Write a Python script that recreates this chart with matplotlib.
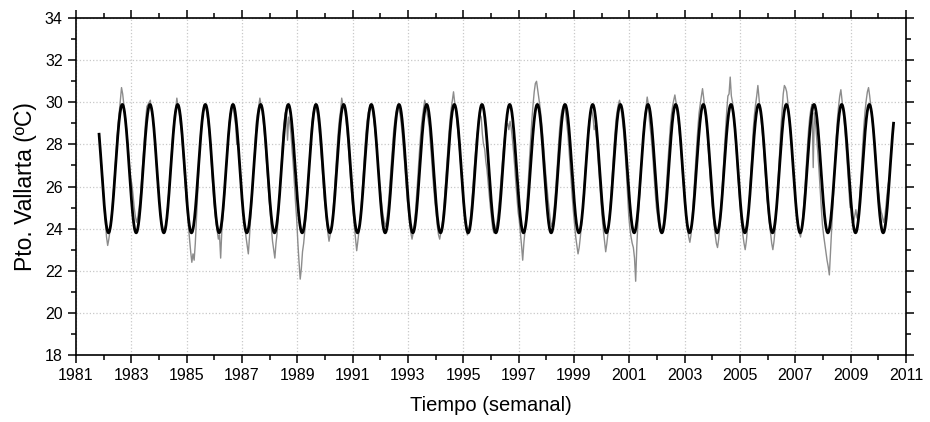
import numpy as np
import matplotlib
matplotlib.use("Agg")
import matplotlib.pyplot as plt
from matplotlib.ticker import MultipleLocator, FixedLocator

sst_start = 1981 + 21.5 / 24
sst_step = 1 / 24
sst_rows = [
    [27.4, 26.8, 26.0],  # 1981 (last three)
    [25.0, 24.3, 23.6, 23.2, 23.5, 23.9, 24.4, 25.0, 25.8, 26.5, 27.3, 28.2, 28.9, 29.5, 30.1, 30.7, 30.4, 29.9, 29.4, 28.9, 28.3, 27.6, 26.9, 26.4],
    [26.1, 25.6, 25.0, 24.6, 24.3, 24.5, 24.9, 25.3, 26.0, 26.8, 27.6, 28.4, 29.2, 29.8, 29.9, 30.0, 30.1, 29.6, 29.4, 28.8, 28.1, 27.3, 26.5, 25.8],
    [25.2, 24.6, 24.2, 23.9, 23.8, 24.1, 24.4, 25.0, 25.7, 26.4, 27.3, 28.1, 28.8, 29.4, 29.7, 30.2, 29.8, 29.5, 29.0, 28.6, 27.9, 27.2, 26.3, 25.5],
    [24.9, 24.2, 23.5, 22.9, 22.4, 22.8, 22.5, 23.3, 24.4, 25.6, 26.8, 27.9, 28.7, 29.3, 29.6, 29.9, 29.8, 29.5, 29.1, 28.6, 28.0, 27.1, 26.2, 25.4],
    [24.8, 24.3, 23.9, 23.5, 23.7, 22.6, 23.9, 24.6, 25.4, 26.2, 27.0, 27.9, 28.7, 29.3, 29.6, 29.9, 29.7, 29.3, 28.9, 28.0, 28.2, 27.4, 26.6, 25.9],
    [25.3, 24.6, 24.1, 23.6, 23.2, 22.8, 23.6, 24.5, 25.4, 26.3, 27.2, 28.1, 29.1, 29.5, 29.8, 30.2, 29.9, 29.6, 29.1, 28.5, 27.8, 27.0, 26.2, 25.4],
    [24.8, 24.0, 23.4, 23.0, 22.6, 23.3, 23.8, 24.6, 25.5, 26.4, 27.4, 28.4, 29.0, 29.5, 29.6, 28.2, 29.3, 29.0, 28.5, 27.7, 27.0, 26.1, 25.2, 24.4],
    [23.3, 22.4, 21.6, 22.1, 22.9, 23.3, 23.9, 24.6, 25.4, 26.3, 27.2, 28.1, 28.9, 29.4, 29.7, 29.9, 29.7, 29.4, 28.9, 28.3, 27.6, 26.9, 26.1, 25.4],
    [24.9, 24.3, 23.8, 23.4, 23.7, 24.0, 24.5, 25.2, 26.0, 26.9, 27.8, 28.6, 29.2, 29.6, 30.2, 29.9, 29.8, 29.5, 29.0, 28.4, 27.7, 26.9, 26.1, 25.4],
    [24.8, 24.1, 23.5, 22.95, 23.4, 23.9, 24.4, 25.1, 25.9, 26.8, 27.7, 28.5, 29.1, 29.5, 29.7, 29.9, 29.8, 29.5, 29.1, 28.6, 28.0, 27.4, 26.7, 26.0],
    [25.6, 25.0, 24.6, 24.3, 24.1, 24.4, 24.9, 25.5, 26.3, 27.1, 27.8, 28.6, 29.1, 29.5, 29.7, 29.8, 29.6, 29.3, 28.8, 28.2, 27.5, 26.8, 26.0, 25.3],
    [24.8, 24.2, 23.8, 23.5, 23.8, 24.2, 24.8, 25.6, 26.4, 27.3, 28.1, 28.8, 29.3, 29.7, 30.1, 29.9, 29.5, 29.2, 28.8, 28.0, 27.3, 26.5, 25.8, 25.2],
    [24.7, 24.1, 23.7, 23.5, 23.8, 24.1, 24.6, 25.3, 26.1, 26.9, 27.7, 28.5, 29.2, 29.7, 30.1, 30.5, 30.0, 29.6, 29.0, 28.5, 27.9, 27.2, 26.4, 25.6],
    [25.0, 24.4, 24.0, 23.7, 23.9, 24.2, 24.7, 25.4, 26.1, 26.9, 27.6, 28.3, 28.7, 29.1, 29.4, 29.3, 28.5, 28.0, 27.8, 27.2, 26.8, 26.2, 25.6, 25.0],
    [24.5, 24.0, 23.8, 23.9, 24.1, 24.4, 24.9, 25.5, 26.2, 26.9, 27.6, 28.2, 28.6, 28.9, 29.0, 28.7, 29.1, 28.8, 28.3, 27.7, 27.0, 26.2, 25.5, 24.8],
    [24.4, 23.8, 23.2, 22.5, 23.3, 23.9, 24.6, 25.5, 26.4, 27.4, 28.3, 29.2, 29.9, 30.5, 30.9, 31.0, 30.6, 30.2, 29.8, 29.3, 28.7, 28.0, 27.3, 26.6],
    [26.0, 25.4, 24.9, 24.4, 24.1, 24.3, 24.8, 25.4, 26.2, 27.0, 27.9, 28.7, 29.3, 29.6, 29.8, 29.9, 29.6, 29.1, 28.6, 27.9, 27.1, 26.3, 25.5, 24.8],
    [24.2, 23.6, 23.2, 22.8, 23.1, 23.6, 24.2, 24.9, 25.7, 26.5, 27.3, 28.1, 28.8, 29.2, 29.5, 29.6, 29.3, 28.7, 28.9, 28.3, 27.6, 26.8, 26.0, 25.2],
    [24.5, 23.9, 23.4, 22.9, 23.3, 23.8, 24.4, 25.1, 25.9, 26.8, 27.7, 28.5, 29.2, 29.6, 29.9, 30.1, 29.8, 29.4, 28.9, 28.3, 27.5, 26.6, 25.6, 24.6],
    [24.0, 23.6, 23.3, 23.1, 22.6, 21.5, 23.2, 24.3, 25.2, 26.1, 27.0, 27.9, 28.7, 29.3, 29.8, 30.25, 29.9, 29.1, 28.6, 28.0, 27.3, 26.5, 25.7, 25.0],
    [24.6, 24.2, 23.9, 23.8, 23.9, 24.2, 24.8, 25.5, 26.3, 27.2, 28.0, 28.8, 29.4, 29.8, 30.1, 30.35, 30.0, 29.6, 29.1, 28.5, 27.9, 27.2, 26.4, 25.7],
    [25.2, 24.6, 24.0, 23.6, 23.35, 23.7, 24.4, 25.3, 26.2, 27.1, 28.0, 28.8, 29.5, 29.9, 30.3, 30.65, 30.2, 29.7, 29.2, 28.6, 27.8, 27.0, 26.2, 25.4],
    [24.8, 24.2, 23.7, 23.3, 23.1, 23.5, 24.1, 24.9, 25.8, 26.8, 27.8, 28.7, 29.6, 30.3, 30.4, 31.2, 30.3, 30.0, 29.4, 28.7, 28.0, 27.2, 26.3, 25.5],
    [24.8, 24.2, 23.7, 23.3, 23.0, 23.4, 24.0, 24.8, 25.7, 26.7, 27.7, 28.7, 29.4, 29.9, 30.3, 30.8, 30.2, 29.6, 29.1, 28.5, 27.8, 27.0, 26.2, 25.4],
    [24.9, 24.3, 23.8, 23.3, 23.0, 23.4, 24.0, 24.8, 25.7, 26.7, 27.8, 28.8, 29.6, 30.4, 30.8, 30.7, 30.5, 30.0, 29.4, 28.8, 28.1, 27.3, 26.5, 25.8],
    [25.2, 24.6, 24.1, 23.8, 23.6, 24.0, 24.6, 25.3, 26.1, 27.0, 27.9, 28.7, 29.3, 29.7, 29.9, 26.9, 29.5, 29.0, 28.3, 27.6, 26.8, 25.9, 25.0, 24.2],
    [23.7, 23.3, 22.9, 22.5, 22.2, 21.8, 22.9, 24.0, 25.1, 26.2, 27.3, 28.3, 29.2, 29.8, 30.3, 30.6, 30.1, 29.6, 29.0, 28.3, 27.5, 26.7, 25.8, 25.0],
    [25.0, 24.6, 24.3, 24.6, 24.9, 24.5, 24.7, 25.3, 26.1, 27.0, 28.0, 28.9, 29.6, 30.1, 30.5, 30.7, 30.3, 29.8, 29.3, 28.8, 28.2, 27.5, 26.7, 25.9],
    [25.6, 25.1, 24.8, 24.6, 24.3, 24.5, 25.0, 25.6, 26.1, 26.4],  # 2010 (to mid-year)
]

# harmonic fit (black curve): mean, amplitude, phase of maximum (fraction of year)
fit_mean = 26.85
fit_amp = 3.05
fit_peak = 0.675
fit_start = 1981.835
fit_end = 2010.55

year_ticks = list(range(1981, 2012, 2))

plt.rcParams['font.family'] = ['Liberation Sans', 'DejaVu Sans']

sst = np.concatenate([np.array(r, dtype=float) for r in sst_rows])
t_sst = sst_start + sst_step * np.arange(len(sst))

t_fit = np.linspace(fit_start, fit_end, 4000)
y_fit = fit_mean + fit_amp * np.cos(2 * np.pi * (t_fit - fit_peak))

fig = plt.figure(figsize=(9.3, 4.22), dpi=100)
ax = fig.add_axes([0.0817, 0.159, 0.8925, 0.798])

ax.plot(t_sst, sst, color='#8c8c8c', lw=1.0, zorder=2)
ax.plot(t_fit, y_fit, color='black', lw=2.0, zorder=3)

ax.set_xlim(1981, 2011)
ax.set_ylim(18, 34)
ax.xaxis.set_major_locator(FixedLocator(year_ticks))
ax.xaxis.set_minor_locator(MultipleLocator(1))
ax.yaxis.set_major_locator(MultipleLocator(2))
ax.yaxis.set_minor_locator(MultipleLocator(1))

ax.grid(True, which='major', color='#c8c8c8', linestyle=':', linewidth=0.9)
ax.set_axisbelow(True)

for s in ax.spines.values():
    s.set_linewidth(1.2)
ax.tick_params(which='both', direction='out', top=True, right=True, width=1.1, labelsize=11.5)
ax.tick_params(which='major', length=6.0)
ax.tick_params(which='minor', length=3.3)

ax.set_xlabel('Tiempo (semanal)', fontsize=14.5, labelpad=9)
ax.set_ylabel('Pto. Vallarta (ºC)', fontsize=16.5, labelpad=6)

fig.savefig('out.png', dpi=100)
plt.close(fig)
